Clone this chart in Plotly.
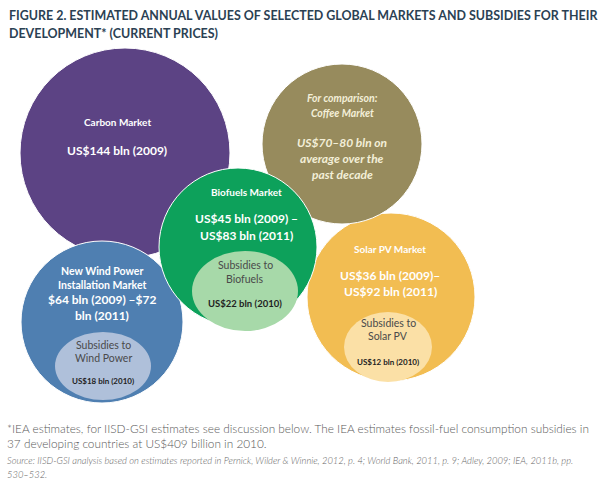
import plotly.graph_objects as go

# ---- data (text content) ----
markets = ["Carbon Market", "Solar PV Market", "Coffee Market", "New Wind Power Installation Market", "Biofuels Market"]
market_value_lines = [
    ["US$144 bln (2009)"],
    ["US$36 bln (2009)–", "US$92 bln (2011)"],
    ["US$70–80 bln on", "average over the", "past decade"],
    ["$64 bln (2009) –$72", "bln (2011)"],
    ["US$45 bln (2009) –", "US$83 bln (2011)"],
]
market_title_lines = [
    ["Carbon Market"],
    ["Solar PV Market"],
    ["For comparison:", "Coffee Market"],
    ["New Wind Power", "Installation Market"],
    ["Biofuels Market"],
]
subsidy_lines = [None, ["Subsidies to", "Solar PV"], None, ["Subsidies to", "Wind Power"], ["Subsidies to", "Biofuels"]]
subsidy_values = [None, "US$12 bln (2010)", None, "US$18 bln (2010)", "US$22 bln (2010)"]

title_lines = ["FIGURE 2. ESTIMATED ANNUAL VALUES OF SELECTED GLOBAL MARKETS AND SUBSIDIES FOR THEIR",
               "DEVELOPMENT* (CURRENT PRICES)"]
note_lines = ["*IEA estimates, for IISD-GSI estimates see discussion below. The IEA estimates fossil-fuel consumption subsidies in",
              "37 developing countries at US$409 billion in 2010."]
source_lines = ["Source: IISD-GSI analysis based on estimates reported in Pernick, Wilder & Winnie, 2012, p. 4; World Bank, 2011, p. 9; Adley, 2009; IEA, 2011b, pp.",
                "530–532."]

# ---- layout / style (pixel geometry of the drawing) ----
outer = [  # cx, cy, r
    (125, 153, 105),
    (391, 297, 84),
    (342, 144, 80),
    (102, 322, 81),
    (238, 247, 79),
]
inner = [None, (388, 347, 44, 35), None, (103, 366, 48, 34), (245, 291, 53, 40)]
outer_colors = ["#5C4384", "#F2BD52", "#978B5D", "#4F7FB1", "#0DA15B"]
inner_colors = [None, "#FBE0A6", None, "#AFC0DA", "#A7D9A9"]
title_y = [[122], [249], [98, 113], [271, 285], [192]]
value_y = [[150], [275, 291], [142, 158, 174], [299, 315], [218, 235]]
sub_y = [None, [323, 336], None, [345, 358], [265, 279]]
subval_y = [None, 362, None, 381, 303]
text_x = [117, 390, 342, 102, 246]
title_size = [10, 10, 10.5, 10.5, 10]
value_size = [12, 12, 12, 12, 12]
italic = [False, False, True, False, False]
subval_size = [None, 8, None, 8, 9.5]

FONT = "Lato"
fig = go.Figure()
fig.add_trace(go.Scatter(x=[0, 600], y=[0, 490], mode="markers", marker=dict(opacity=0), hoverinfo="skip", showlegend=False))

shapes = []
ann = []
for i, name in enumerate(markets):
    cx, cy, r = outer[i]
    shapes.append(dict(type="circle", xref="x", yref="y", x0=cx - r, x1=cx + r, y0=cy - r, y1=cy + r,
                       fillcolor=outer_colors[i], line=dict(color="white", width=1), layer="above"))
    if inner[i]:
        ix, iy, rx, ry = inner[i]
        shapes.append(dict(type="circle", xref="x", yref="y", x0=ix - rx, x1=ix + rx, y0=iy - ry, y1=iy + ry,
                           fillcolor=inner_colors[i], line=dict(width=0), layer="above"))

def txt(s, x, y, size, color, bold=False, ital=False, family=FONT, anchor="center", weight=None):
    t = s
    if bold:
        t = "<b>" + t + "</b>"
    if ital:
        t = "<i>" + t + "</i>"
    f = dict(family=family, size=size, color=color)
    if weight:
        f["weight"] = weight
    ann.append(dict(text=t, x=x, y=y, xref="x", yref="y", showarrow=False, xanchor=anchor, yanchor="middle",
                    font=f))

for i in range(len(markets)):
    x = text_x[i]
    col = "#FFFFFF" if not italic[i] else "#F3EFD8"
    for s, y in zip(market_title_lines[i], title_y[i]):
        txt(s, x, y, title_size[i], col, bold=True, ital=italic[i])
    for s, y in zip(market_value_lines[i], value_y[i]):
        txt(s, x, y, value_size[i], col, bold=True, ital=italic[i])
    if subsidy_lines[i]:
        ix = inner[i][0]
        for s, y in zip(subsidy_lines[i], sub_y[i]):
            txt(s, ix, y, 10.5, "#4A4A4A")
        txt(subsidy_values[i], ix, subval_y[i], subval_size[i], "#222222", bold=True)

for s, y in zip(title_lines, [15, 33]):
    txt(s, 7, y, 12.45, "#2B4153", bold=True, anchor="left")
for s, y in zip(note_lines, [428, 443]):
    txt(s, 5, y, 11.8, "#595959", anchor="left", weight=300)
for s, y in zip(source_lines, [460, 474]):
    txt(s, 5, y, 9.4, "#666666", ital=True, anchor="left", weight=300)

fig.update_layout(
    width=600, height=490, margin=dict(l=0, r=0, t=0, b=0),
    paper_bgcolor="white", plot_bgcolor="white",
    xaxis=dict(range=[0, 600], visible=False, fixedrange=True),
    yaxis=dict(range=[490, 0], visible=False, fixedrange=True),
    shapes=shapes, annotations=ann, showlegend=False,
)
fig.write_html("out.html")
